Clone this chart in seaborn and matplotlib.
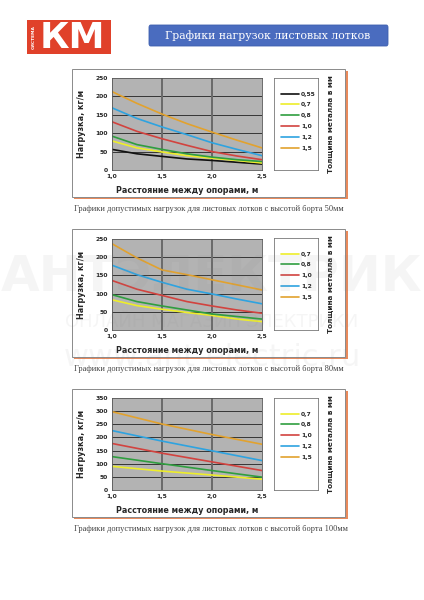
import numpy as np
import pandas as pd
import matplotlib
matplotlib.use("Agg")
import matplotlib.pyplot as plt
import seaborn as sns
from matplotlib.patches import Rectangle, FancyBboxPatch

sns.set_theme(style="white")
plt.rcParams['font.family'] = ['DejaVu Sans']

W, H = 424, 600

# ---- data ----
span = [1.0, 1.25, 1.5, 1.75, 2.0, 2.25, 2.5]
span100 = [1.0, 1.5, 2.0, 2.5]

thick50 = ["0,55", "0,7", "0,8", "1,0", "1,2", "1,5"]
load50 = {
    "0,55": [56, 44, 37, 30, 26, 21, 16],
    "0,7": [79, 60, 49, 39, 32, 26, 19],
    "0,8": [92, 69, 56, 44, 35, 28, 23],
    "1,0": [131, 105, 85, 67, 50, 38, 28],
    "1,2": [169, 140, 117, 96, 74, 56, 39],
    "1,5": [213, 181, 152, 126, 103, 81, 60],
}

thick80 = ["0,7", "0,8", "1,0", "1,2", "1,5"]
load80 = {
    "0,7": [83, 67, 57, 48, 40, 30, 23],
    "0,8": [97, 78, 66, 55, 44, 37, 30],
    "1,0": [136, 112, 95, 78, 66, 55, 46],
    "1,2": [178, 152, 131, 112, 99, 85, 72],
    "1,5": [237, 198, 165, 152, 138, 124, 110],
}

thick100 = ["0,7", "0,8", "1,0", "1,2", "1,5"]
load100 = {
    "0,7": [90, 72, 57, 41],
    "0,8": [127, 100, 74, 49],
    "1,0": [177, 140, 107, 74],
    "1,2": [226, 186, 149, 112],
    "1,5": [298, 251, 211, 174],
}

colors = {"0,55": "#111111", "0,7": "#eeee2a", "0,8": "#2f9e3f",
          "1,0": "#d2433f", "1,2": "#2ea3e0", "1,5": "#e2a22e"}

captions = [
    "Графики допустимых нагрузок для листовых лотков с высотой борта 50мм",
    "Графики допустимых нагрузок для листовых лотков с высотой борта 80мм",
    "Графики допустимых нагрузок для листовых лотков с высотой борта 100мм",
]

fig = plt.figure(figsize=(W / 100, H / 100), dpi=100)
fig.patch.set_facecolor("white")


def px_axes(x, y, w, h, **kw):
    return fig.add_axes([x / W, 1 - (y + h) / H, w / W, h / H], **kw)


def fx(x):
    return x / W


def fy(y):
    return 1 - y / H


# ---- header ----
fig.patches.append(Rectangle((fx(27), fy(54)), 84 / W, 34 / H, transform=fig.transFigure,
                             facecolor="#e0412a", edgecolor="none", zorder=-2))
fig.text(fx(72), fy(37.5), "КМ", color="white", fontsize=26, fontweight="heavy",
         ha="center", va="center", family="DejaVu Sans")
fig.text(fx(34), fy(37), "СИСТЕМА", color="white", fontsize=3.2, fontweight="bold",
         rotation=90, ha="center", va="center")
fig.patches.append(FancyBboxPatch((fx(149), fy(46)), 239 / W, 21 / H, transform=fig.transFigure,
                                  boxstyle="round,pad=0,rounding_size=0.004",
                                  facecolor="#4a6cbf", edgecolor="#3d5fae", lw=0.6, zorder=-2))
fig.text(fx(268), fy(35.5), "Графики нагрузок листовых лотков", color="white",
         fontsize=7.8, ha="center", va="center", family="DejaVu Serif")


def panel(top, thick, loads, xs, ymax, caption, n_top):
    # outer frame with orange shadow
    fig.patches.append(Rectangle((fx(74), fy(top + 130)), 274 / W, 128 / H,
                                 transform=fig.transFigure, facecolor="#e98a5c",
                                 edgecolor="none", zorder=-3))
    fig.patches.append(Rectangle((fx(72), fy(top + 128)), 273 / W, 128 / H,
                                 transform=fig.transFigure, facecolor="white",
                                 edgecolor="#8a8a8a", lw=0.7, zorder=-2))

    rows = []
    for t in thick:
        for x, v in zip(xs, loads[t]):
            rows.append({"span": x, "load": v, "thick": t})
    df = pd.DataFrame(rows)

    ax = px_axes(112, top + 9 + n_top, 150, 92 - n_top)
    ax.set_facecolor("#b3b3b3")
    sns.lineplot(data=df, x="span", y="load", hue="thick", hue_order=thick,
                 palette=colors, lw=1.2, ax=ax, legend=False)
    ax.set_xlim(1.0, 2.5)
    ax.set_ylim(0, ymax)
    ax.set_xticks([1.0, 1.5, 2.0, 2.5])
    ax.set_xticklabels(["1,0", "1,5", "2,0", "2,5"])
    ax.set_yticks(np.arange(0, ymax + 1, 50))
    ax.tick_params(labelsize=4.3, length=0, pad=3)
    for lab in ax.get_xticklabels() + ax.get_yticklabels():
        lab.set_fontweight("bold")
    for yv in np.arange(50, ymax, 50):
        ax.axhline(yv, color="#222222", lw=0.6, zorder=0.5)
    for xv in [1.5, 2.0]:
        ax.axvline(xv, color="#6a6a6a", lw=1.4, zorder=0.5)
    for s in ax.spines.values():
        s.set_color("#555555")
        s.set_linewidth(0.6)
    ax.set_xlabel("Расстояние между опорами, м", fontsize=5.8, fontweight="bold", labelpad=5)
    ax.set_ylabel("Нагрузка, кг/м", fontsize=5.8, fontweight="bold", labelpad=7)

    # legend box
    lax = px_axes(274, top + 9, 44, 92)
    lax.set_xticks([])
    lax.set_yticks([])
    lax.set_facecolor("white")
    for s in lax.spines.values():
        s.set_color("#777777")
        s.set_linewidth(0.6)
    handles = [plt.Line2D([], [], color=colors[t], lw=1.2) for t in thick]
    leg = lax.legend(handles, thick, loc="upper left", bbox_to_anchor=(0.1, 0.88),
                     frameon=False, fontsize=4.3, handlelength=3.0, handletextpad=0.4,
                     labelspacing=0.95, borderaxespad=0)
    for txt in leg.get_texts():
        txt.set_fontweight("bold")
    fig.text(fx(330), fy(top + 55), "Толщина металла в мм", rotation=90, fontsize=5.2,
             fontweight="bold", ha="center", va="center")

    fig.text(fx(74), fy(top + 140), caption, fontsize=6.0, ha="left", va="center",
             family="Liberation Serif", color="#444444")


panel(69, thick50, load50, span, 250, captions[0], 0)
panel(229, thick80, load80, span, 250, captions[1], 1)
panel(389, thick100, load100, span100, 350, captions[2], 0)

# faint watermark
fig.text(fx(212), fy(278), "АНТЭЛЕКТРИК", fontsize=36, color="#888888", alpha=0.08,
         ha="center", va="center", fontweight="bold")
fig.text(fx(212), fy(322), "ОНЛАЙН МАГАЗИН ЭЛЕКТРИКИ", fontsize=13, color="#888888",
         alpha=0.08, ha="center", va="center")
fig.text(fx(212), fy(357), "www.ant-electric.ru", fontsize=22, color="#888888",
         alpha=0.08, ha="center", va="center")

fig.savefig("out.png", dpi=100)
